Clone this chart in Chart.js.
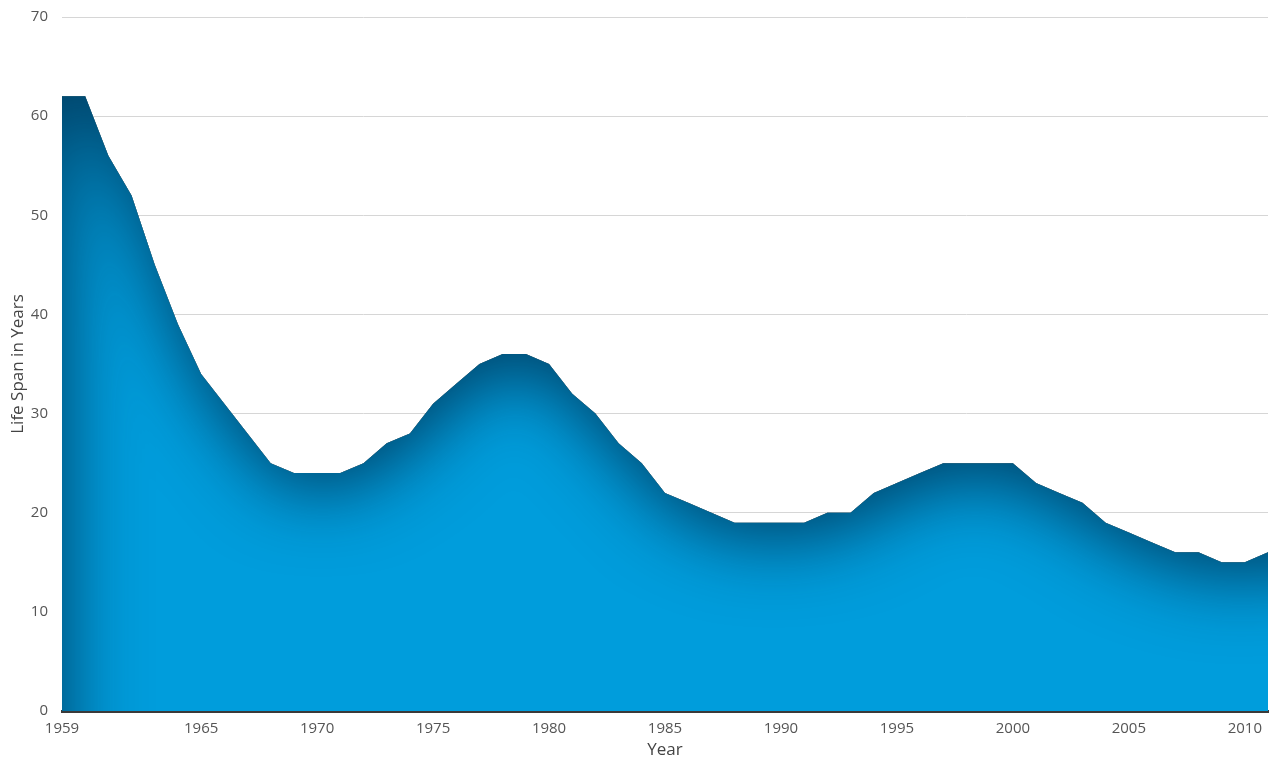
<!DOCTYPE html>
<html>
<head>
<meta charset="utf-8">
<script src="https://cdn.jsdelivr.net/npm/chart.js@4/dist/chart.umd.min.js"></script>
<style>
    html, body { margin: 0; padding: 0; background: #fff; }
    #wrap { width: 1269px; height: 758px; }
</style>
</head>
<body>
<div id="wrap"><canvas id="myChart"></canvas></div>
<script>
// years on the x axis
var years = [];
for (var y = 1959; y <= 2011; y++) years.push(String(y));

// life span in years
var lifeSpan = [62, 62, 56, 52, 45, 39, 34, 31, 28, 25,
    24, 24, 24, 25, 27, 28, 31, 33, 35, 36,
    36, 35, 32, 30, 27, 25, 22, 21, 20, 19,
    19, 19, 19, 20, 20, 22, 23, 24, 25, 25,
    25, 25, 23, 22, 21, 19, 18, 17, 16, 16,
    15, 15, 16];

// which years get a label under the axis
var xTickYears = ['1959', '1965', '1970', '1975', '1980', '1985', '1990', '1995', '2000', '2005', '2010'];
var yTicks = [0, 10, 20, 30, 40, 50, 60, 70];

Chart.defaults.font.family = '"Open Sans", Lato, sans-serif';
Chart.defaults.color = '#555';

// darkens the area along its top and left edges (inner shadow)
const innerShadow = {
    id: 'innerShadow',
    afterDatasetsDraw(chart) {
        const pts = chart.getDatasetMeta(0).data;
        const area = chart.chartArea;
        const c = chart.ctx;
        const bottom = chart.scales.y.getPixelForValue(0);
        const last = pts[pts.length - 1];

        const shape = new Path2D();
        shape.moveTo(pts[0].x, bottom + 300);
        pts.forEach(function (p) { shape.lineTo(p.x, p.y); });
        shape.lineTo(last.x + 300, last.y);
        shape.lineTo(last.x + 300, bottom + 300);
        shape.closePath();

        const outer = new Path2D();
        outer.rect(-3000, -3000, chart.width + 6000, chart.height + 6000);
        outer.addPath(shape);

        c.save();
        c.beginPath();
        c.rect(area.left, area.top, area.right - area.left, bottom - area.top);
        c.clip();
        c.clip(shape);
        c.shadowColor = 'rgba(0, 58, 92, 0.92)';
        c.shadowBlur = 76;
        c.shadowOffsetX = 4;
        c.shadowOffsetY = 16;
        c.fillStyle = '#000';
        c.fill(outer, 'evenodd');
        c.restore();
    }
};

const ctx = document.getElementById('myChart');

new Chart(ctx, {
    type: 'line',
    data: {
        labels: years,
        datasets: [{
                label: 'Life Span',
                data: lifeSpan,
                fill: 'origin',
                backgroundColor: '#009ddc',
                borderWidth: 0,
                pointRadius: 0,
                tension: 0
            }]
    },
    options: {
        responsive: true,
        maintainAspectRatio: false,
        animation: false,
        layout: {
            padding: { top: 0, right: -1, left: 8, bottom: 0 }
        },
        plugins: {
            legend: { display: false },
            tooltip: { enabled: false }
        },
        scales: {
            x: {
                z: 1,
                offset: false,
                grid: { display: false },
                border: { display: true, color: '#3a3a3a', width: 3 },
                afterFit: function (scale) { scale.height = 47; },
                ticks: {
                    autoSkip: false,
                    maxRotation: 0,
                    padding: 1,
                    font: { size: 15 },
                    callback: function (value) {
                        var lab = this.getLabelForValue(value);
                        return xTickYears.indexOf(lab) >= 0 ? lab : '';
                    }
                },
                title: {
                    display: true,
                    text: 'Year',
                    color: '#444',
                    font: { size: 17 },
                    padding: { top: 4, bottom: -2 }
                }
            },
            y: {
                min: yTicks[0],
                max: yTicks[yTicks.length - 1],
                grid: { color: '#d6d6d6', drawTicks: false },
                border: { display: false },
                afterFit: function (scale) {
                    scale.width = 54;
                    scale.paddingTop = 17;
                },
                ticks: {
                    stepSize: 10,
                    padding: 14,
                    font: { size: 15 }
                },
                title: {
                    display: true,
                    text: 'Life Span in Years',
                    color: '#444',
                    font: { size: 17 },
                    padding: { top: 0, bottom: 5 }
                }
            }
        }
    },
    plugins: [innerShadow]
});
</script>
</body>
</html>
